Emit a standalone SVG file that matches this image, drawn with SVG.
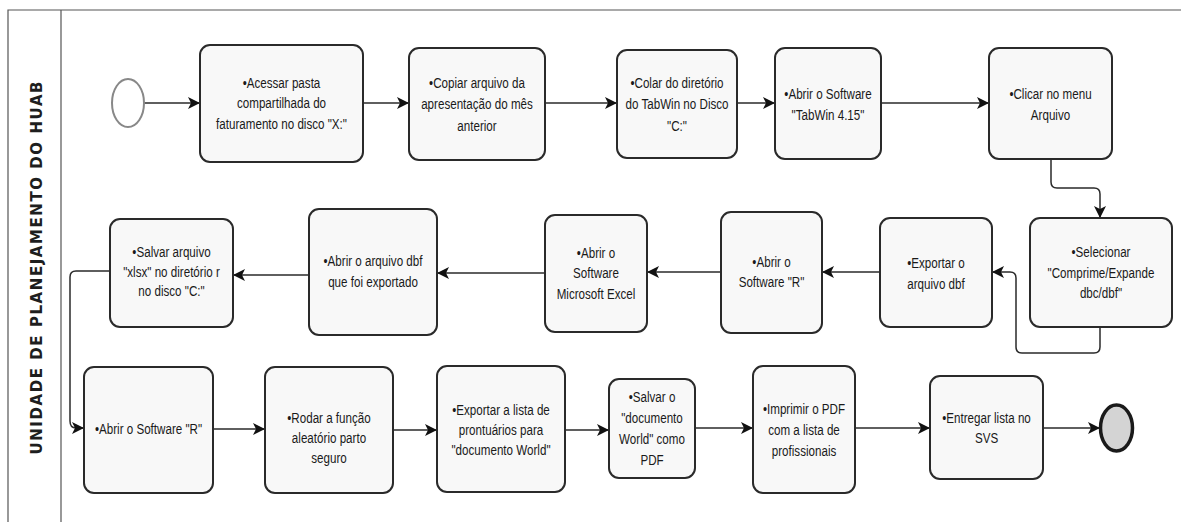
<svg xmlns="http://www.w3.org/2000/svg" width="1183" height="522" viewBox="0 0 1183 522">
<defs>
<style>
.box{fill:#f8f8f8;stroke:#2a2a2a;stroke-width:2}
.t{font-family:"Liberation Sans",Arial,sans-serif;font-size:15px;fill:#1a1a1a;text-anchor:middle}
.c{fill:none;stroke:#2a2a2a;stroke-width:1.5}
.lane{fill:none;stroke:#555;stroke-width:1.2}
.lbl{font-family:"DejaVu Sans",Arial,sans-serif;font-weight:bold;font-size:15px;fill:#1e1e1e;text-anchor:middle}
</style>
<marker id="ah" markerUnits="userSpaceOnUse" markerWidth="14" markerHeight="14" refX="12" refY="6" orient="auto">
<path d="M0,0 L12,6 L0,12 L3,6 z" fill="#111"/>
</marker>
</defs>
<rect width="1183" height="522" fill="#fff"/>
<g id="pool">
<path class="lane" d="M1181 10 H8 V522 M61 10 V522"/>
<text class="lbl" transform="translate(42,268) rotate(-90)" textLength="373" lengthAdjust="spacing">UNIDADE DE PLANEJAMENTO DO HUAB</text>
</g>
<g id="connectors">
<path class="c" marker-end="url(#ah)" d="M144 103 H200"/>
<path class="c" marker-end="url(#ah)" d="M363 103 H409"/>
<path class="c" marker-end="url(#ah)" d="M545 103 H617"/>
<path class="c" marker-end="url(#ah)" d="M737 103 H775"/>
<path class="c" marker-end="url(#ah)" d="M881 103 H989"/>
<path class="c" marker-end="url(#ah)" d="M1051 159 V182 Q1051 188 1057 188 H1094 Q1100 188 1100 194 V218"/>
<path class="c" marker-end="url(#ah)" d="M1100 327 V347 Q1100 353 1094 353 H1022 Q1016 353 1016 347 V278 Q1016 272 1010 272 H992"/>
<path class="c" marker-end="url(#ah)" d="M880 272 H822"/>
<path class="c" marker-end="url(#ah)" d="M721 272 H647"/>
<path class="c" marker-end="url(#ah)" d="M545 273 H437"/>
<path class="c" marker-end="url(#ah)" d="M309 275 H233"/>
<path class="c" marker-end="url(#ah)" d="M110 271 H76 Q70 271 70 277 V421 Q70 428 76 428 H84"/>
<path class="c" marker-end="url(#ah)" d="M213 429 H265"/>
<path class="c" marker-end="url(#ah)" d="M393 430 H437"/>
<path class="c" marker-end="url(#ah)" d="M565 430 H609"/>
<path class="c" marker-end="url(#ah)" d="M695 428 H753"/>
<path class="c" marker-end="url(#ah)" d="M855 428 H930"/>
<path class="c" marker-end="url(#ah)" d="M1043 428 H1100"/>
</g>
<g id="start"><ellipse cx="128" cy="103" rx="16" ry="24" fill="#fff" stroke="#888" stroke-width="2"/></g>
<g id="n1"><rect class="box" x="200" y="45" width="163" height="117" rx="10"/>
<g transform="matrix(0.775 0 0 1 281.5 0)"><text class="t" x="0" y="88">•Acessar pasta</text><text class="t" x="0" y="108">compartilhada do</text><text class="t" x="0" y="129">faturamento no disco "X:"</text></g></g>
<g id="n2"><rect class="box" x="409" y="48" width="136" height="112" rx="10"/>
<g transform="matrix(0.775 0 0 1 477 0)"><text class="t" x="0" y="88">•Copiar arquivo da</text><text class="t" x="0" y="109">apresentação do mês</text><text class="t" x="0" y="131">anterior</text></g></g>
<g id="n3"><rect class="box" x="617" y="50" width="120" height="108" rx="10"/>
<g transform="matrix(0.775 0 0 1 677 0)"><text class="t" x="0" y="88">•Colar do diretório</text><text class="t" x="0" y="109">do TabWin no Disco</text><text class="t" x="0" y="131">"C:"</text></g></g>
<g id="n4"><rect class="box" x="775" y="48" width="106" height="111" rx="10"/>
<g transform="matrix(0.775 0 0 1 828 0)"><text class="t" x="0" y="99">•Abrir o Software</text><text class="t" x="0" y="120">"TabWin 4.15"</text></g></g>
<g id="n5"><rect class="box" x="989" y="48" width="123" height="111" rx="10"/>
<g transform="matrix(0.775 0 0 1 1050.5 0)"><text class="t" x="0" y="99">•Clicar no menu</text><text class="t" x="0" y="120">Arquivo</text></g></g>
<g id="n6"><rect class="box" x="1030" y="218" width="142" height="109" rx="10"/>
<g transform="matrix(0.775 0 0 1 1101 0)"><text class="t" x="0" y="257">•Selecionar</text><text class="t" x="0" y="278">"Comprime/Expande</text><text class="t" x="0" y="298">dbc/dbf"</text></g></g>
<g id="n7"><rect class="box" x="880" y="218" width="112" height="109" rx="10"/>
<g transform="matrix(0.775 0 0 1 936 0)"><text class="t" x="0" y="268">•Exportar o</text><text class="t" x="0" y="289">arquivo dbf</text></g></g>
<g id="n8"><rect class="box" x="721" y="212" width="101" height="121" rx="10"/>
<g transform="matrix(0.775 0 0 1 771.5 0)"><text class="t" x="0" y="267">•Abrir o</text><text class="t" x="0" y="287">Software "R"</text></g></g>
<g id="n9"><rect class="box" x="545" y="215" width="102" height="117" rx="10"/>
<g transform="matrix(0.775 0 0 1 596 0)"><text class="t" x="0" y="258">•Abrir o</text><text class="t" x="0" y="278">Software</text><text class="t" x="0" y="299">Microsoft Excel</text></g></g>
<g id="n10"><rect class="box" x="309" y="209" width="128" height="126" rx="10"/>
<g transform="matrix(0.775 0 0 1 373 0)"><text class="t" x="0" y="266">•Abrir o arquivo dbf</text><text class="t" x="0" y="287">que foi exportado</text></g></g>
<g id="n11"><rect class="box" x="110" y="219" width="123" height="108" rx="10"/>
<g transform="matrix(0.775 0 0 1 171.5 0)"><text class="t" x="0" y="257">•Salvar arquivo</text><text class="t" x="0" y="277">"xlsx" no diretório r</text><text class="t" x="0" y="296">no disco "C:"</text></g></g>
<g id="n12"><rect class="box" x="84" y="367" width="129" height="126" rx="10"/>
<g transform="matrix(0.775 0 0 1 148.5 0)"><text class="t" x="0" y="434">•Abrir o Software "R"</text></g></g>
<g id="n13"><rect class="box" x="265" y="367" width="128" height="126" rx="10"/>
<g transform="matrix(0.775 0 0 1 329 0)"><text class="t" x="0" y="423">•Rodar a função</text><text class="t" x="0" y="443">aleatório parto</text><text class="t" x="0" y="463">seguro</text></g></g>
<g id="n14"><rect class="box" x="437" y="366" width="128" height="126" rx="10"/>
<g transform="matrix(0.775 0 0 1 501 0)"><text class="t" x="0" y="415">•Exportar a lista de</text><text class="t" x="0" y="435">prontuários para</text><text class="t" x="0" y="455">"documento World"</text></g></g>
<g id="n15"><rect class="box" x="609" y="379" width="86" height="99" rx="10"/>
<g transform="matrix(0.775 0 0 1 652 0)"><text class="t" x="0" y="402">•Salvar o</text><text class="t" x="0" y="423">"documento</text><text class="t" x="0" y="444">World" como</text><text class="t" x="0" y="465">PDF</text></g></g>
<g id="n16"><rect class="box" x="753" y="366" width="102" height="127" rx="10"/>
<g transform="matrix(0.775 0 0 1 804 0)"><text class="t" x="0" y="414">•Imprimir o PDF</text><text class="t" x="0" y="435">com a lista de</text><text class="t" x="0" y="456">profissionais</text></g></g>
<g id="n17"><rect class="box" x="930" y="376" width="113" height="103" rx="10"/>
<g transform="matrix(0.775 0 0 1 986.5 0)"><text class="t" x="0" y="423">•Entregar lista no</text><text class="t" x="0" y="443">SVS</text></g></g>
<g id="end"><ellipse cx="1116.5" cy="428" rx="16" ry="23" fill="#d4d4d4" stroke="#1a1a1a" stroke-width="3.5"/></g>
</svg>
